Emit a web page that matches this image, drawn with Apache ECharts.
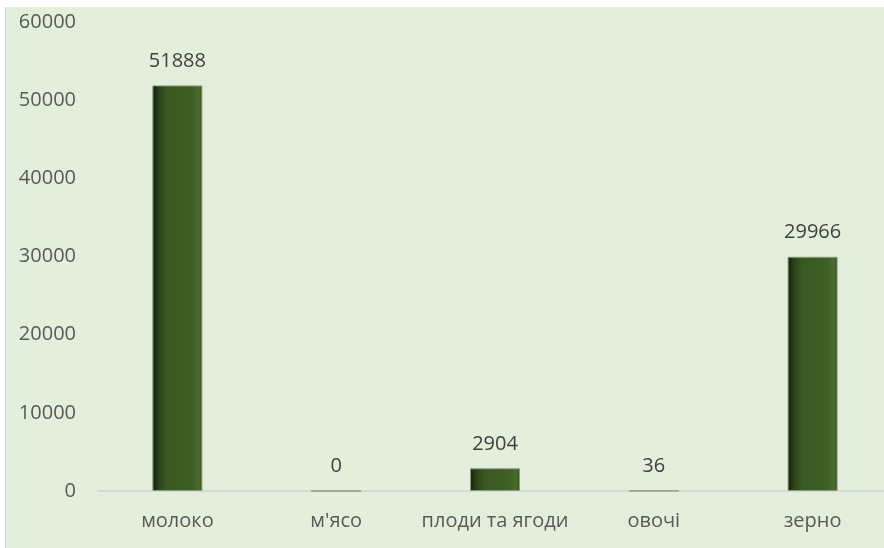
<!DOCTYPE html>
<html><head><meta charset="utf-8">
<script src="https://cdn.jsdelivr.net/npm/echarts@6/dist/echarts.min.js"></script>
<style>html,body{margin:0;padding:0;background:#fff}#c{width:884px;height:548px}</style>
</head><body><div id="c"></div>
<script>
const categories = ['молоко', "м'ясо", 'плоди та ягоди', 'овочі', 'зерно'];
const values = [51888, 0, 2904, 36, 29966];
const yTicks = [0, 10000, 20000, 30000, 40000, 50000, 60000];

const chart = echarts.init(document.getElementById('c'));
const font = 'Open Sans, Noto Sans, sans-serif';
chart.setOption({
  backgroundColor: '#ffffff',
  animation: false,
  graphic: [
    {type: 'rect', shape: {x: 6, y: 7, width: 878, height: 541}, style: {fill: '#E3EFDA'}, z: -10},
    {type: 'line', shape: {x1: 5.5, y1: 7, x2: 5.5, y2: 548}, style: {stroke: '#C9D6EE', lineWidth: 1}, z: -9}
  ],
  grid: {left: 98, width: 794, top: 22, height: 469, containLabel: false, outerBoundsMode: 'none'},
  xAxis: {
    type: 'category', data: categories,
    axisLine: {lineStyle: {color: '#D5D9D2', width: 2}},
    axisTick: {show: false},
    axisLabel: {color: '#595959', fontSize: 20, fontFamily: font, margin: 20, interval: 0}
  },
  yAxis: {
    type: 'value', min: yTicks[0], max: yTicks[yTicks.length - 1], interval: 10000,
    axisLine: {show: false}, axisTick: {show: false}, splitLine: {show: false},
    axisLabel: {color: '#595959', fontSize: 20, fontFamily: font, margin: 22,
      formatter: v => String(v)}
  },
  series: [{
    type: 'bar', data: values, barWidth: 50,
    itemStyle: {
      color: {type: 'linear', x: 0, y: 0, x2: 1, y2: 0, colorStops: [
        {offset: 0, color: '#121C0B'}, {offset: 0.12, color: '#2A401A'},
        {offset: 0.3, color: '#3A5922'}, {offset: 0.8, color: '#3F5F25'},
        {offset: 0.92, color: '#4A6E2C'}, {offset: 1, color: '#34501E'}]},
      borderColor: '#8E9A86', borderWidth: 1
    },
    label: {show: true, position: 'top', distance: 14, color: '#404040', fontSize: 20, fontFamily: font}
  }]
});
</script></body></html>
